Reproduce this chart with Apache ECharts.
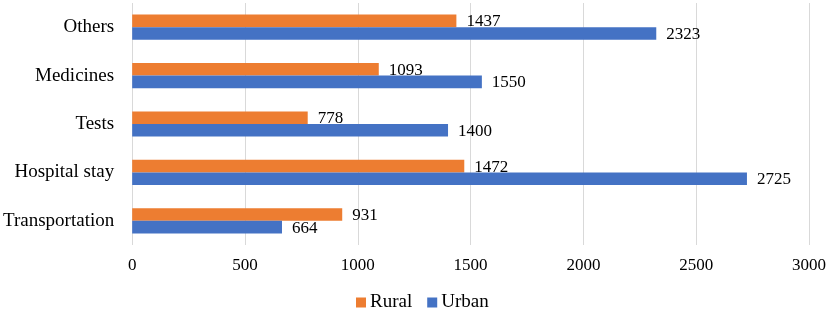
<!DOCTYPE html>
<html>
<head>
<meta charset="utf-8">
<script src="https://cdn.jsdelivr.net/npm/echarts@6/dist/echarts.min.js"></script>
<style>html,body{margin:0;padding:0;background:#fff;}#c{width:829px;height:313px;}</style>
</head>
<body>
<div id="c"></div>
<script>
const categories = ['Transportation', 'Hospital stay', 'Tests', 'Medicines', 'Others'];
const ruralValues = [931, 1472, 778, 1093, 1437];
const urbanValues = [664, 2725, 1400, 1550, 2323];
const seriesNames = ['Rural', 'Urban'];

const FONT = '"Liberation Serif", "Times New Roman", serif';
const chart = echarts.init(document.getElementById('c'), null, {renderer: 'canvas'});
const labelCfg = {show: true, position: 'right', distance: 10, offset: [0, 1], color: '#000', fontSize: 17, fontFamily: FONT};
chart.setOption({
  animation: false,
  backgroundColor: '#fff',
  textStyle: {fontFamily: FONT, color: '#000'},
  grid: {left: 132, right: 20, top: 3, bottom: 68, containLabel: false},
  legend: {
    data: seriesNames,
    left: 356, top: 293, padding: 0,
    itemWidth: 10, itemHeight: 10, itemGap: 15,
    icon: 'rect',
    textStyle: {fontSize: 19, fontFamily: FONT, color: '#000', padding: [0, 0, 0, -1]}
  },
  xAxis: {
    type: 'value', min: 0, max: 3000, interval: 500,
    axisLine: {show: false}, axisTick: {show: false},
    splitLine: {show: true, lineStyle: {color: '#d9d9d9', width: 1}},
    axisLabel: {fontSize: 17, fontFamily: FONT, color: '#000', margin: 12, formatter: v => String(v)}
  },
  yAxis: {
    type: 'category', data: categories,
    axisLine: {show: false}, axisTick: {show: false},
    axisLabel: {fontSize: 19, fontFamily: FONT, color: '#000', margin: 18}
  },
  series: [
    {name: seriesNames[0], type: 'bar', data: ruralValues, barGap: '0%', barCategoryGap: '48%',
     itemStyle: {color: '#ED7D31'}, label: labelCfg},
    {name: seriesNames[1], type: 'bar', data: urbanValues, barGap: '0%', barCategoryGap: '48%',
     itemStyle: {color: '#4472C4'}, label: labelCfg}
  ]
});
</script>
</body>
</html>
